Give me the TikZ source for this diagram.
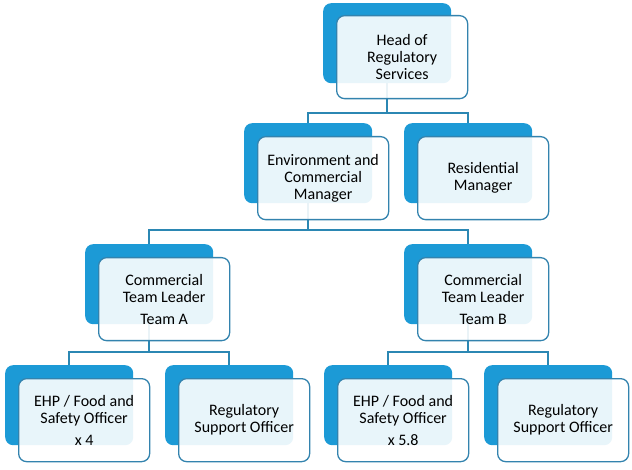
\documentclass[tikz,border=0pt]{standalone}
\usepackage{fontspec}
\setmainfont{Carlito}
\definecolor{backblue}{HTML}{1C9AD6}
\definecolor{edgeblue}{HTML}{3383AE}
\definecolor{linkblue}{HTML}{2B87B3}
\begin{document}
\begin{tikzpicture}[x=1pt,y=-1pt,
 backbox/.style={rectangle, rounded corners=8pt, fill=backblue, minimum width=128pt, minimum height=80pt, anchor=north west, inner sep=0pt},
 frontbox/.style={rectangle, rounded corners=8pt, draw=edgeblue, line width=1.3pt, fill=white, fill opacity=0.9, text opacity=1, minimum width=131pt, minimum height=83pt, anchor=north west, align=center, font=\fontsize{16}{17}\selectfont, text=black, inner sep=0pt},
 link/.style={draw=linkblue, line width=2pt}]
\useasboundingbox[fill=white] (0,0) rectangle (632,470);
% back rectangles
\node[backbox] (hb) at (323,3) {};
\node[backbox] (eb) at (244,123) {};
\node[backbox] (rb) at (404,123) {};
\node[backbox] (ab) at (85,244) {};
\node[backbox] (bb) at (404,244) {};
\node[backbox] (a1b) at (5,365) {};
\node[backbox] (a2b) at (165,365) {};
\node[backbox] (b1b) at (324,365) {};
\node[backbox] (b2b) at (484,365) {};
% bar levels
\coordinate (y1) at (0,113);
\coordinate (y2) at (0,230);
\coordinate (y3) at (0,352);
% connectors
\draw[link] (hb.south) -- (hb.south |- y1);
\draw[link] (eb.north) -- (eb.north |- y1) -- (rb.north |- y1) -- (rb.north);
\draw[link] (eb.south) -- (eb.south |- y2);
\draw[link] (ab.north) -- (ab.north |- y2) -- (bb.north |- y2) -- (bb.north);
\draw[link] (ab.south) -- (ab.south |- y3);
\draw[link] (a1b.north) -- (a1b.north |- y3) -- (a2b.north |- y3) -- (a2b.north);
\draw[link] (bb.south) -- (bb.south |- y3);
\draw[link] (b1b.north) -- (b1b.north |- y3) -- (b2b.north |- y3) -- (b2b.north);
% front boxes
\node[frontbox] (h) at (336,15) {Head of\\Regulatory\\Services};
\node[frontbox] (e) at (257,136) {Environment and\\Commercial\\Manager};
\node[frontbox] (r) at (417,136) {Residential\\Manager};
\node[frontbox] (a) at (98,257) {Commercial\\Team Leader\\[5pt]Team A};
\node[frontbox] (b) at (417,257) {Commercial\\Team Leader\\[5pt]Team B};
\node[frontbox] (a1) at (18,378) {EHP / Food and\\Safety Officer\\[5pt]x 4};
\node[frontbox] (a2) at (178,378) {Regulatory\\Support Officer};
\node[frontbox] (b1) at (337,378) {EHP / Food and\\Safety Officer\\[5pt]x 5.8};
\node[frontbox] (b2) at (497,378) {Regulatory\\Support Officer};
\end{tikzpicture}
\end{document}
